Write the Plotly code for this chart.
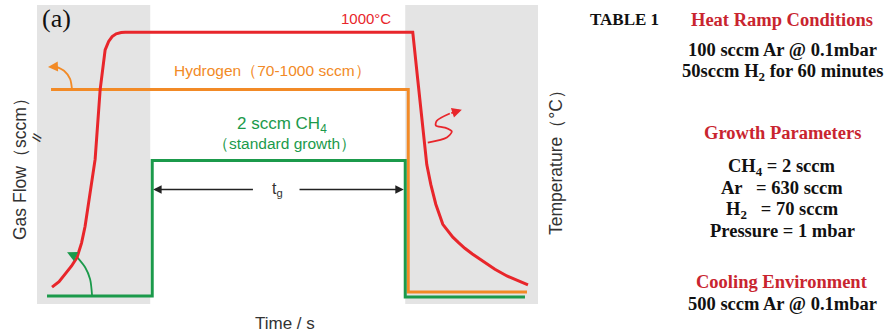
import plotly.graph_objects as go

# ---------------- data (time in arbitrary units 0-100) ----------------
# gas flows (arbitrary units, 0-100 scale)
h2_time = [2.8, 74.1, 74.1, 97.8]
h2_flow = [71.7, 71.7, 4.0, 4.0]

ch4_time = [2.0, 23.0, 23.0, 73.5, 73.5, 97.4]
ch4_flow = [2.7, 2.7, 48.0, 48.0, 2.3, 2.3]

# temperature (°C)
temp_time = [3.0, 4.4, 5.6, 6.9, 8.0, 8.9, 9.6, 10.6, 11.6, 12.6, 13.6, 14.3, 15.0, 15.8, 16.8, 17.6,
             75.0, 76.0, 77.0, 77.8, 78.6, 79.6, 81.0, 82.0, 83.0, 84.2, 85.4, 86.9, 88.4, 89.9,
             91.4, 93.8, 96.0, 98.0]
temp_val = [62, 82, 110, 140, 172, 225, 286, 411, 532, 788, 935, 966, 984, 994, 999, 1000,
            1000, 825, 642, 513, 440, 367, 293, 268, 246, 225, 205, 184, 165, 145,
            128, 103, 85, 70]

growth_start = 23.0
growth_end = 73.5

# decorative curved arrows (data units)
orange_arrow_x = [6.99, 6.6, 5.4, 3.8, 2.2]
orange_arrow_y = [71.7, 75.3, 78.0, 79.4, 79.3]
red_arrow_x = [78.0, 81.8, 82.8, 81.4, 79.6, 79.8, 82.4, 84.8]
red_arrow_y = [54.0, 55.7, 57.7, 59.0, 59.7, 61.3, 63.7, 65.0]
green_arrow_x = [11.0, 10.6, 9.6, 8.0, 6.0]
green_arrow_y = [2.7, 8.3, 12.3, 15.7, 17.3]

RED = "#e8262b"
ORANGE = "#f28a26"
GREEN = "#1b9a4b"
GRAY_TXT = "#333333"
TABLE_RED = "#c9252f"

W, H = 884, 333
x0, x1 = 37, 538
y0, y1 = 5, 304

fig = go.Figure()

fig.add_trace(go.Scatter(x=h2_time, y=h2_flow, mode="lines",
                         line=dict(color=ORANGE, width=3), hoverinfo="skip"))
fig.add_trace(go.Scatter(x=ch4_time, y=ch4_flow, mode="lines",
                         line=dict(color=GREEN, width=3), hoverinfo="skip"))
fig.add_trace(go.Scatter(x=temp_time, y=temp_val, mode="lines", yaxis="y2",
                         line=dict(color=RED, width=3), hoverinfo="skip"))

# decorative arrows
for ax_, ay_, col in [(orange_arrow_x, orange_arrow_y, ORANGE),
                      (red_arrow_x, red_arrow_y, RED),
                      (green_arrow_x, green_arrow_y, GREEN)]:
    fig.add_trace(go.Scatter(x=ax_[:-1], y=ay_[:-1], mode="lines",
                             line=dict(color=col, width=1.8, shape="spline", smoothing=0.8),
                             hoverinfo="skip"))
    fig.add_annotation(x=ax_[-1], y=ay_[-1], ax=ax_[-2], ay=ay_[-2],
                       xref="x", yref="y", axref="x", ayref="y", text="",
                       showarrow=True, arrowhead=2, arrowsize=1.1, arrowwidth=1.8,
                       arrowcolor=col)

# growth window (white)
fig.add_shape(type="rect", xref="x", yref="paper", x0=growth_start - 0.4, x1=growth_end,
              y0=1 - y1 / H, y1=1 - y0 / H, fillcolor="white", line_width=0, layer="below")

# t_g arrows
tg_y = 38.3
fig.add_annotation(x=growth_start + 0.2, y=tg_y, ax=43.4, ay=tg_y, xref="x", yref="y",
                   axref="x", ayref="y", text="", showarrow=True, arrowhead=2,
                   arrowsize=1.2, arrowwidth=1.4, arrowcolor="#222")
fig.add_annotation(x=growth_end - 0.3, y=tg_y, ax=52.1, ay=tg_y, xref="x", yref="y",
                   axref="x", ayref="y", text="", showarrow=True, arrowhead=2,
                   arrowsize=1.2, arrowwidth=1.4, arrowcolor="#222")
fig.add_annotation(x=48.1, y=tg_y, xref="x", yref="y", text="t<sub>g</sub>",
                   showarrow=False, xanchor="center", yanchor="middle",
                   font=dict(family="Liberation Sans", size=16, color=GRAY_TXT))


def ptext(txt, px, py, size, color, family="Liberation Sans", angle=0):
    fig.add_annotation(x=px / W, y=1 - py / H, xref="paper", yref="paper", text=txt,
                       showarrow=False, xanchor="center", yanchor="middle",
                       textangle=angle, font=dict(family=family, size=size, color=color))


# in-plot labels
ptext("1000°C", 366, 18, 15, RED)
ptext("Hydrogen（70-1000 sccm）", 272, 70, 15.5, ORANGE)
ptext("2 sccm CH<sub>4</sub>", 282, 125, 17, GREEN)
ptext("（standard growth）", 284, 143, 15.5, GREEN)
ptext("(a)", 56, 18, 26, "#111", family="Liberation Serif")

# axis titles
ptext("Gas Flow（sccm）", 20, 165, 17.5, GRAY_TXT, angle=-90)
ptext("<b>//</b>", 37, 138, 12, GRAY_TXT, angle=-70)
ptext("Temperature（°C）", 556, 158, 17.5, GRAY_TXT, angle=-90)
ptext("Time / s", 285, 323, 17, GRAY_TXT)

# table
table_lines = [
    ("<b>Heat Ramp Conditions</b>", 20, TABLE_RED),
    ("<b>100 sccm Ar @ 0.1mbar</b>", 50, "#111"),
    ("<b>50sccm H<sub>2</sub> for 60 minutes</b>", 72, "#111"),
    ("<b>Growth Parameters</b>", 133, TABLE_RED),
    ("<b>CH<sub>4</sub> = 2 sccm</b>", 167, "#111"),
    ("<b>Ar   = 630 sccm</b>", 188, "#111"),
    ("<b>H<sub>2</sub>   = 70 sccm</b>", 210, "#111"),
    ("<b>Pressure = 1 mbar</b>", 231, "#111"),
    ("<b>Cooling Environment</b>", 282, TABLE_RED),
    ("<b>500 sccm Ar @ 0.1mbar</b>", 304, "#111"),
]
for txt, yy, col in table_lines:
    ptext(txt, 782, yy, 18.5, col, family="Liberation Serif")
ptext("<b>TABLE 1</b>", 624, 20, 17, "#111", family="Liberation Serif")

axis_common = dict(showgrid=False, zeroline=False, showticklabels=False, ticks="",
                   showline=False, fixedrange=True)
fig.update_layout(
    width=W, height=H, margin=dict(l=0, r=0, t=0, b=0),
    paper_bgcolor="white", plot_bgcolor="#e4e4e4", showlegend=False,
    xaxis=dict(domain=[x0 / W, x1 / W], range=[0, 100], **axis_common),
    yaxis=dict(domain=[1 - y1 / H, 1 - y0 / H], range=[0, 100], **axis_common),
    yaxis2=dict(overlaying="y", range=[0, 1100], side="right", **axis_common),
)

fig.write_html("out.html")
